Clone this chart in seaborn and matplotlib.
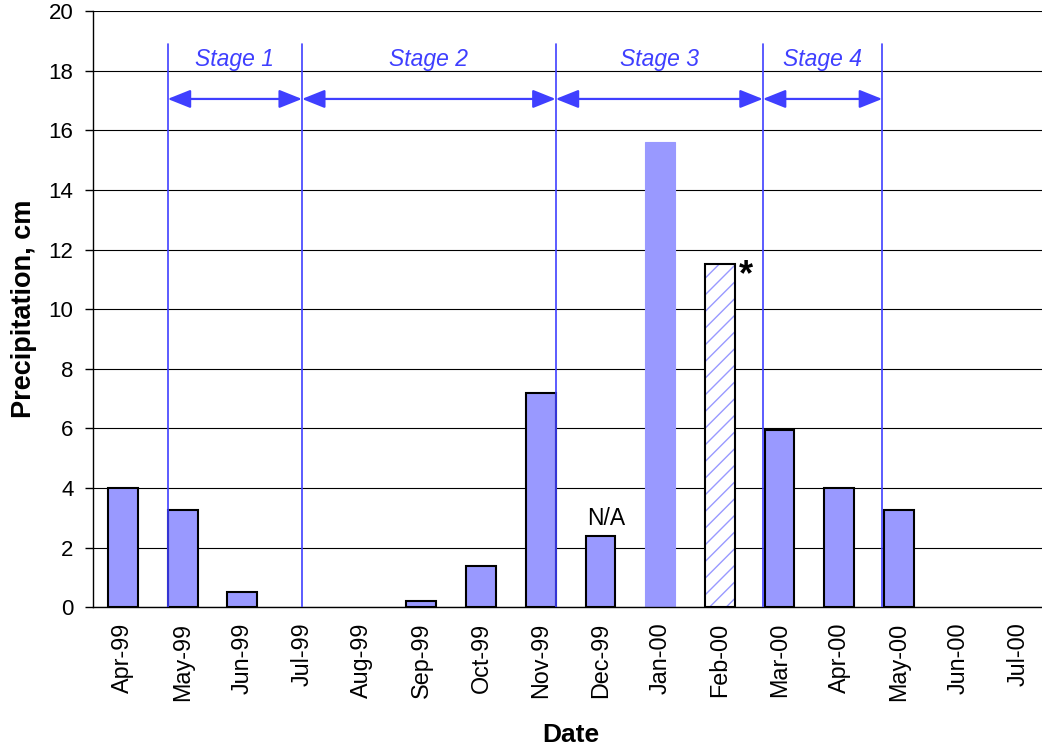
import numpy as np
import pandas as pd
import matplotlib
matplotlib.use("Agg")
import matplotlib.pyplot as plt
import seaborn as sns

# ---- data ----
months = ['Apr-99', 'May-99', 'Jun-99', 'Jul-99', 'Aug-99', 'Sep-99', 'Oct-99', 'Nov-99',
          'Dec-99', 'Jan-00', 'Feb-00', 'Mar-00', 'Apr-00', 'May-00', 'Jun-00', 'Jul-00']
precip = [4.0, 3.25, 0.5, 0, 0, 0.2, 1.4, 7.2, 2.4, 15.6, 11.5, 5.95, 4.0, 3.25, 0, 0]
stage_names = ['Stage 1', 'Stage 2', 'Stage 3', 'Stage 4']
stage_bounds = [0.75, 3.0, 7.25, 10.72, 12.72]   # in category units
yticks = list(range(0, 21, 2))
na_month = 'Dec-99'
estimated_month = 'Feb-00'
solid_month = 'Jan-00'

# ---- style ----
sns.set_style('white')
plt.rcParams['font.family'] = ['Liberation Sans', 'DejaVu Sans']
plt.rcParams['hatch.linewidth'] = 1.0
for k in ['text.color', 'axes.labelcolor', 'xtick.color', 'ytick.color']:
    plt.rcParams[k] = 'black'

BAR = '#9999FF'
BLUE = '#3F3FFF'

df = pd.DataFrame({'Date': months, 'Precip': precip})

fig = plt.figure(figsize=(10.42, 7.48), dpi=100)
ax = fig.add_axes([0.0893, 0.1881, 0.9166, 0.7972])

sns.barplot(data=df, x='Date', y='Precip', order=months, color=BAR, width=0.5,
            edgecolor='black', linewidth=1.5, errorbar=None, saturation=1, ax=ax)

# hide zero-height bars
for patch in ax.patches:
    if patch.get_height() == 0:
        patch.set_visible(False)

# Jan-00 bar without outline
ij = months.index(solid_month)
ax.patches[ij].set_edgecolor(BAR)
ax.patches[ij].set_linewidth(0.8)

# Feb-00 hatched (estimated) bar
ie = months.index(estimated_month)
p = ax.patches[ie]
p.set_facecolor('white')
p.set_edgecolor(BAR)
p.set_hatch('//')
p.set_linewidth(0)
ax.bar([ie], [precip[ie]], width=0.5, fill=False, edgecolor='black', linewidth=1.5, zorder=3)

# axes formatting
ax.set_xlim(-0.5, len(months) - 0.5)
ax.set_ylim(0, 20)
ax.set_yticks(yticks)
ax.set_yticklabels([str(v) for v in yticks])
ax.set_xticks(np.arange(len(months)))
ax.set_xticklabels(months, rotation=90)
ax.set_xticks(np.arange(len(months) + 1) - 0.5, minor=True)
ax.tick_params(axis='x', which='major', length=0, pad=11, labelsize=16.8)
ax.tick_params(axis='x', which='minor', length=7, width=1, color='black', direction='out')
ax.tick_params(axis='y', which='major', length=6, width=1, color='black', direction='out',
               pad=8, labelsize=16, left=True)
ax.grid(axis='y', color='black', linewidth=0.8)
ax.grid(axis='x', visible=False)
ax.set_axisbelow(True)
for s in ['top', 'right']:
    ax.spines[s].set_visible(False)
for s in ['left', 'bottom']:
    ax.spines[s].set_color('black')
    ax.spines[s].set_linewidth(1.0)

ax.set_xlabel('Date', fontsize=19, fontweight='bold')
ax.set_ylabel('Precipitation, cm', fontsize=19.5, fontweight='bold')
ax.xaxis.set_label_coords(0.5, -0.194)
ax.yaxis.set_label_coords(-0.0585, 0.5)

# stage lines, arrows and labels
for b in stage_bounds:
    ax.plot([b, b], [0, 18.9], color=BLUE, linewidth=1.2, zorder=4)
for name, b0, b1 in zip(stage_names, stage_bounds[:-1], stage_bounds[1:]):
    ax.annotate('', xy=(b1, 17.05), xytext=(b0, 17.05),
                arrowprops=dict(arrowstyle='<|-|>,head_length=0.7,head_width=0.28',
                                color=BLUE, lw=1.6, shrinkA=0, shrinkB=0,
                                mutation_scale=20), zorder=5)
    ax.text((b0 + b1) / 2, 18.15, name, ha='center', va='baseline', color=BLUE,
            fontsize=16.5, fontstyle='italic')

# annotations
ina = months.index(na_month)
ax.text(ina + 0.1, precip[ina] + 0.37, 'N/A', ha='center', va='baseline', fontsize=16.5)
ax.text(ie + 0.43, precip[ie] - 0.7, '*', ha='center', va='baseline', fontsize=26,
        fontweight='bold')

fig.savefig('out.png', dpi=100)
